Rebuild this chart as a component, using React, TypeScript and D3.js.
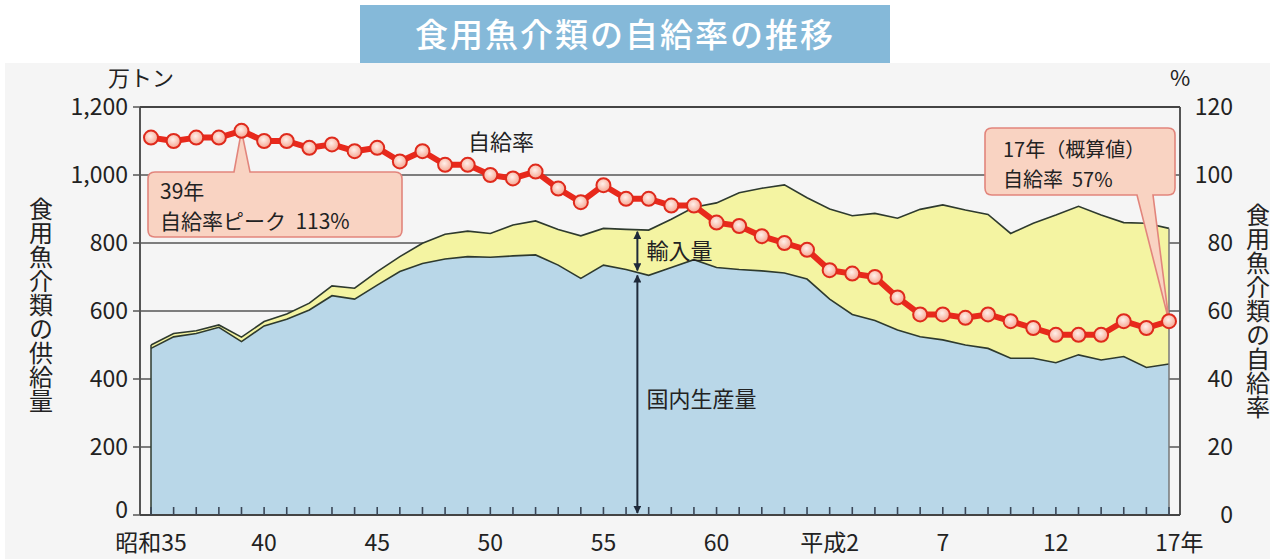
import React from "react";
import * as d3 from "d3";

const years = [1960,1961,1962,1963,1964,1965,1966,1967,1968,1969,1970,1971,1972,1973,1974,1975,1976,1977,1978,1979,1980,1981,1982,1983,1984,1985,1986,1987,1988,1989,1990,1991,1992,1993,1994,1995,1996,1997,1998,1999,2000,2001,2002,2003,2004,2005];
// 食用魚介類の供給量 (万トン) = 国内生産量 + 輸入量
const totalSupply = [500,534,542,559,523,569,591,623,674,667,716,760,799,826,835,828,853,865,840,821,843,840,838,870,905,918,948,961,971,933,900,880,887,873,899,912,897,884,828,858,882,908,882,860,858,843];
const domestic = [490,524,534,552,510,556,576,603,645,635,676,716,740,753,760,758,762,765,735,696,735,722,705,728,751,728,722,718,712,694,635,590,572,544,524,515,500,490,461,461,448,471,456,466,434,444];
// 自給率 (%)
const selfRate = [111,110,111,111,113,110,110,108,109,107,108,104,107,103,103,100,99,101,96,92,97,93,93,91,91,86,85,82,80,78,72,71,70,64,59,59,58,59,57,55,53,53,53,57,55,57];

const xLabelYears = [1960,1965,1970,1975,1980,1985,1990,1995,2000,2005];
const xLabelTexts = ["昭和35","40","45","50","55","60","平成2","7","12","17年"];
const leftTicks = [0,200,400,600,800,1000,1200];
const rightTicks = [0,20,40,60,80,100,120];

const FONT = "'Noto Sans CJK JP', 'Noto Sans', sans-serif";

function calloutTop(x0: number, y0: number, x1: number, y1: number, r: number, bx0: number, bx1: number, tx: number, ty: number) {
  return `M${x0 + r},${y0} L${bx0},${y0} L${tx},${ty} L${bx1},${y0} L${x1 - r},${y0} Q${x1},${y0} ${x1},${y0 + r} L${x1},${y1 - r} Q${x1},${y1} ${x1 - r},${y1} L${x0 + r},${y1} Q${x0},${y1} ${x0},${y1 - r} L${x0},${y0 + r} Q${x0},${y0} ${x0 + r},${y0} Z`;
}
function calloutBottom(x0: number, y0: number, x1: number, y1: number, r: number, bx0: number, bx1: number, tx: number, ty: number) {
  return `M${x0 + r},${y0} L${x1 - r},${y0} Q${x1},${y0} ${x1},${y0 + r} L${x1},${y1 - r} Q${x1},${y1} ${x1 - r},${y1} L${bx1},${y1} L${tx},${ty} L${bx0},${y1} L${x0 + r},${y1} Q${x0},${y1} ${x0},${y1 - r} L${x0},${y0 + r} Q${x0},${y0} ${x0 + r},${y0} Z`;
}

export default function App() {
  const W = 1275, H = 559;
  const axL = 140, axR = 1180, axT = 107, axB = 515;
  const x = d3.scaleLinear().domain([1960, 2005]).range([151, 1169]);
  const y = d3.scaleLinear().domain([0, 1200]).range([axB, axT]);
  const yp = d3.scaleLinear().domain([0, 120]).range([axB, axT]);

  const idx = years.map((_, i) => i);
  const areaTotal = d3.area<number>().x(i => x(years[i])).y0(y(0)).y1(i => y(totalSupply[i]))(idx) || "";
  const areaDom = d3.area<number>().x(i => x(years[i])).y0(y(0)).y1(i => y(domestic[i]))(idx) || "";
  const lineTotal = d3.line<number>().x(i => x(years[i])).y(i => y(totalSupply[i]))(idx) || "";
  const lineDom = d3.line<number>().x(i => x(years[i])).y(i => y(domestic[i]))(idx) || "";
  const lineRate = d3.line<number>().x(i => x(years[i])).y(i => yp(selfRate[i]))(idx) || "";

  // arrow position between 1981 and 1982
  const aYear = 1981.5;
  const interp = (arr: number[], yr: number) => {
    const i = Math.floor(yr - 1960);
    const t = yr - 1960 - i;
    return arr[i] * (1 - t) + arr[i + 1] * t;
  };
  const ax = x(aYear);
  const aTot = y(interp(totalSupply, aYear));
  const aDom = y(interp(domestic, aYear));

  const peakI = years.indexOf(1964);
  const lastI = years.length - 1;
  const pk = { x: x(years[peakI]), y: yp(selfRate[peakI]) };
  const ls = { x: x(years[lastI]), y: yp(selfRate[lastI]) };

  const textCol = "#222";

  return (
    <svg width={W} height={H} style={{ position: "absolute", left: 0, top: 0 }} fontFamily={FONT}>
      <defs>
        <radialGradient id="mk" cx="45%" cy="40%" r="60%">
          <stop offset="0%" stopColor="#fff0ea" />
          <stop offset="100%" stopColor="#f6a48f" />
        </radialGradient>
        <marker id="ah" viewBox="0 0 10 10" refX="9" refY="5" markerWidth="8" markerHeight="8" orient="auto-start-reverse" markerUnits="userSpaceOnUse">
          <path d="M0,0 L10,5 L0,10 Z" fill="#1f2a3a" />
        </marker>
      </defs>
      <rect x={0} y={0} width={W} height={H} fill="#ffffff" />
      <rect x={5} y={63} width={1265} height={H - 63} fill="#f5f5f5" />
      {/* title */}
      <rect x={360} y={5} width={530} height={58} fill="#85b9d9" />
      <text x={625} y={47} textAnchor="middle" fill="#ffffff" fontSize={33} fontWeight={500} letterSpacing={2}>食用魚介類の自給率の推移</text>

      {/* gridlines */}
      {leftTicks.map(t => (
        <line key={t} x1={133} x2={axR} y1={y(t)} y2={y(t)} stroke="#555" strokeWidth={1.6} />
      ))}

      {/* areas */}
      <path d={areaTotal} fill="#f4f4a2" stroke="none" />
      <path d={areaDom} fill="#b9d7e8" stroke="none" />
      <path d={lineTotal} fill="none" stroke="#2e3a2e" strokeWidth={1.6} />
      <path d={lineDom} fill="none" stroke="#2e3a2e" strokeWidth={1.6} />
      <line x1={x(1960)} x2={x(1960)} y1={y(totalSupply[0])} y2={axB} stroke="#2e3a2e" strokeWidth={1.5} />
      <line x1={x(2005)} x2={x(2005)} y1={y(totalSupply[lastI])} y2={axB} stroke="#777" strokeWidth={1.5} />

      {/* axes frame */}
      <line x1={axL} x2={axL} y1={axT} y2={axB} stroke="#555" strokeWidth={2} />
      <line x1={axR} x2={axR} y1={axT} y2={axB} stroke="#555" strokeWidth={2} />
      <line x1={axL} x2={axR} y1={axT} y2={axT} stroke="#444" strokeWidth={2} />
      <line x1={axL} x2={axR} y1={axB} y2={axB} stroke="#444" strokeWidth={2} />
      {years.map(yr => (
        <line key={yr} x1={x(yr)} x2={x(yr)} y1={axB} y2={axB - 8} stroke="#3a4656" strokeWidth={1.6} />
      ))}

      {/* left tick labels */}
      {leftTicks.map(t => (
        <text key={t} x={128} y={y(t)} dy={t === 0 ? "0.15em" : "0.36em"} textAnchor="end" fontSize={23} fill={textCol}>{d3.format(",")(t)}</text>
      ))}
      {rightTicks.map(t => (
        <text key={t} x={1233} y={yp(t)} dy="0.36em" textAnchor="end" fontSize={23} fill={textCol}>{t}</text>
      ))}
      <text x={108} y={86} fontSize={22} fill={textCol}>万トン</text>
      <text x={1170} y={86} fontSize={22} fill={textCol}>%</text>

      {/* vertical axis titles */}
      <text x={41} y={197} writingMode="vertical-rl" fontSize={24} fill={textCol}>食用魚介類の供給量</text>
      <text x={1258} y={203} writingMode="vertical-rl" fontSize={24} fill={textCol}>食用魚介類の自給率</text>

      {/* x labels */}
      {xLabelYears.map((yr, i) => {
        const last = i === xLabelYears.length - 1;
        return (
          <text key={yr} x={last ? x(yr) - 14 : x(yr)} y={551} textAnchor={last ? "start" : "middle"} fontSize={23} fill={textCol}>{xLabelTexts[i]}</text>
        );
      })}

      {/* arrows */}
      <line x1={ax} x2={ax} y1={aTot + 2} y2={aDom - 2} stroke="#1f2a3a" strokeWidth={2} markerStart="url(#ah)" markerEnd="url(#ah)" />
      <line x1={ax} x2={ax} y1={aDom + 3} y2={axB - 2} stroke="#1f2a3a" strokeWidth={2} markerStart="url(#ah)" markerEnd="url(#ah)" />
      <text x={ax + 9} y={(aTot + aDom) / 2} dy="0.36em" fontSize={22} fill={textCol}>輸入量</text>
      <text x={ax + 9} y={(aDom + axB) / 2 + 5} dy="0.36em" fontSize={22} fill={textCol}>国内生産量</text>

      {/* callouts */}
      <path d={calloutTop(148, 172, 402, 237, 7, 234, 250, pk.x, pk.y)} fill="#f9d3c2" stroke="#e2857c" strokeWidth={1.6} />
      <text x={160} y={199} fontSize={21} fill={textCol}>39年</text>
      <text x={160} y={229} fontSize={21} fill={textCol} xmlSpace="preserve">自給率ピーク  113%</text>

      <path d={calloutBottom(985, 128, 1175, 195, 7, 1137, 1153, ls.x, ls.y)} fill="#f9d3c2" stroke="#e2857c" strokeWidth={1.6} />
      <text x={1003} y={157} fontSize={20} fill={textCol}>17年（概算値）</text>
      <text x={1003} y={187} fontSize={20} fill={textCol} xmlSpace="preserve">自給率  57%</text>

      <text x={468} y={150} fontSize={22} fill={textCol}>自給率</text>

      {/* self-sufficiency line */}
      <path d={lineRate} fill="none" stroke="#e8291c" strokeWidth={6} strokeLinejoin="round" />
      {years.map((yr, i) => (
        <circle key={yr} cx={x(yr)} cy={yp(selfRate[i])} r={7} fill="url(#mk)" stroke="#df2a1c" strokeWidth={2} />
      ))}
    </svg>
  );
}
